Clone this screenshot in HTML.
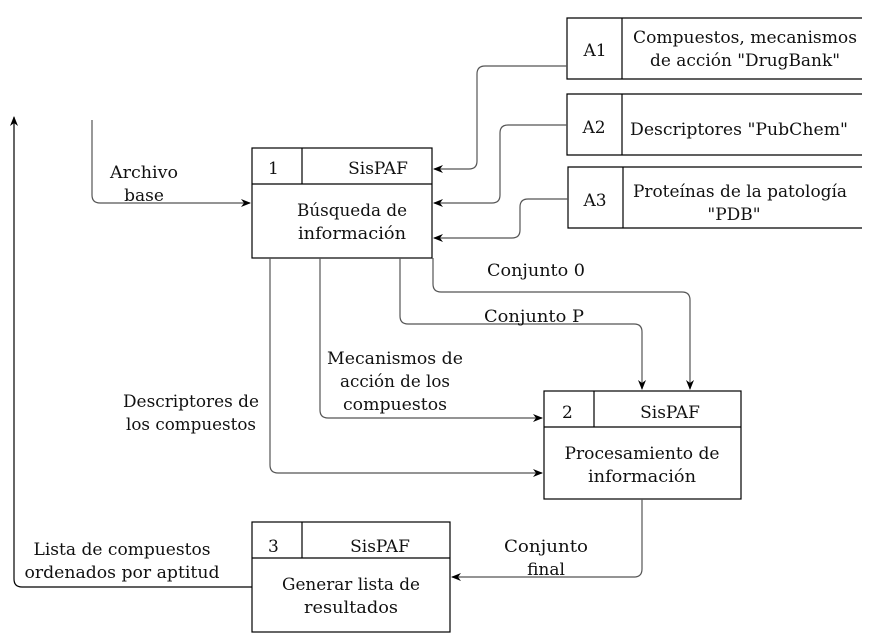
<!DOCTYPE html>
<html><head><meta charset="utf-8"><style>
html,body{margin:0;padding:0;background:#fff;}
svg{display:block;}
</style></head><body>
<svg width="877" height="635" viewBox="0 0 877 635" xmlns="http://www.w3.org/2000/svg">
<defs>
<marker id="ar" markerWidth="10" markerHeight="10" refX="9" refY="5" orient="auto" markerUnits="userSpaceOnUse">
<path d="M0,1 L10,5 L0,9 L3,5 z" fill="#000"/>
</marker>
</defs>
<g fill="none" stroke="#000" stroke-width="1.2">
<rect x="252" y="148" width="180" height="110"/>
<line x1="252" y1="184" x2="432" y2="184"/><line x1="302" y1="148" x2="302" y2="184"/>
<rect x="544" y="391" width="197" height="108"/>
<line x1="544" y1="427" x2="741" y2="427"/><line x1="594" y1="391" x2="594" y2="427"/>
<rect x="252" y="522" width="198" height="110"/>
<line x1="252" y1="558" x2="450" y2="558"/><line x1="302" y1="522" x2="302" y2="558"/>
<path d="M862,18 H567 V79 H862 M622,18 V79"/>
<path d="M862,94 H567 V155 H862 M622,94 V155"/>
<path d="M862,167 H568 V228 H862 M623,167 V228"/>
</g>
<g fill="none" stroke="#555" stroke-width="1.2">
<path d="M567,66 H485 Q477,66 477,74 V161 Q477,169 469,169 H434" marker-end="url(#ar)"/>
<path d="M567,125 H508 Q500,125 500,133 V195 Q500,203 492,203 H434" marker-end="url(#ar)"/>
<path d="M568,199 H528 Q520,199 520,207 V230 Q520,238 512,238 H434" marker-end="url(#ar)"/>
<path d="M92,120 V195 Q92,203 100,203 H250" marker-end="url(#ar)"/>
<path d="M433,258 V284 Q433,292 441,292 H682 Q690,292 690,300 V389" marker-end="url(#ar)"/>
<path d="M400,258 V316 Q400,324 408,324 H634 Q642,324 642,332 V389" marker-end="url(#ar)"/>
<path d="M320,258 V410 Q320,418 328,418 H542" marker-end="url(#ar)"/>
<path d="M270,258 V465 Q270,473 278,473 H542" marker-end="url(#ar)"/>
<path d="M642,499 V569 Q642,577 634,577 H452" marker-end="url(#ar)"/>
<path d="M252,587 H22 Q14,587 14,579 V117" stroke="#000" marker-end="url(#ar)"/>
</g>
<g font-family="DejaVu Serif, Liberation Serif, serif" font-size="17" fill="#111">
<text x="268" y="174">1</text>
<text x="378" y="174" text-anchor="middle">SisPAF</text>
<text x="352" y="216" text-anchor="middle" textLength="110" lengthAdjust="spacingAndGlyphs">Búsqueda de</text>
<text x="352" y="239" text-anchor="middle" textLength="108" lengthAdjust="spacingAndGlyphs">información</text>
<text x="562" y="418">2</text>
<text x="670" y="418" text-anchor="middle">SisPAF</text>
<text x="642" y="459" text-anchor="middle" textLength="155" lengthAdjust="spacingAndGlyphs">Procesamiento de</text>
<text x="642" y="482" text-anchor="middle" textLength="108" lengthAdjust="spacingAndGlyphs">información</text>
<text x="268" y="552">3</text>
<text x="380" y="552" text-anchor="middle">SisPAF</text>
<text x="351" y="590" text-anchor="middle" textLength="138" lengthAdjust="spacingAndGlyphs">Generar lista de</text>
<text x="351" y="613" text-anchor="middle" textLength="94" lengthAdjust="spacingAndGlyphs">resultados</text>
<text x="595" y="56" text-anchor="middle">A1</text>
<text x="745" y="43" text-anchor="middle" textLength="224" lengthAdjust="spacingAndGlyphs">Compuestos, mecanismos</text>
<text x="745" y="66" text-anchor="middle" textLength="190" lengthAdjust="spacingAndGlyphs">de acción "DrugBank"</text>
<text x="594" y="133" text-anchor="middle">A2</text>
<text x="739" y="135" text-anchor="middle" textLength="218" lengthAdjust="spacingAndGlyphs">Descriptores "PubChem"</text>
<text x="595" y="206" text-anchor="middle">A3</text>
<text x="740" y="197" text-anchor="middle" textLength="214" lengthAdjust="spacingAndGlyphs">Proteínas de la patología</text>
<text x="734" y="220" text-anchor="middle">"PDB"</text>
<text x="144" y="178" text-anchor="middle" textLength="68" lengthAdjust="spacingAndGlyphs">Archivo</text>
<text x="144" y="201" text-anchor="middle">base</text>
<text x="536" y="276" text-anchor="middle" textLength="98" lengthAdjust="spacingAndGlyphs">Conjunto 0</text>
<text x="534" y="322" text-anchor="middle" textLength="100" lengthAdjust="spacingAndGlyphs">Conjunto P</text>
<text x="395" y="364" text-anchor="middle" textLength="136" lengthAdjust="spacingAndGlyphs">Mecanismos de</text>
<text x="395" y="387" text-anchor="middle" textLength="110" lengthAdjust="spacingAndGlyphs">acción de los</text>
<text x="395" y="410" text-anchor="middle" textLength="104" lengthAdjust="spacingAndGlyphs">compuestos</text>
<text x="191" y="407" text-anchor="middle" textLength="136" lengthAdjust="spacingAndGlyphs">Descriptores de</text>
<text x="191" y="430" text-anchor="middle" textLength="130" lengthAdjust="spacingAndGlyphs">los compuestos</text>
<text x="546" y="552" text-anchor="middle" textLength="84" lengthAdjust="spacingAndGlyphs">Conjunto</text>
<text x="546" y="575" text-anchor="middle">final</text>
<text x="122" y="555" text-anchor="middle" textLength="177" lengthAdjust="spacingAndGlyphs">Lista de compuestos</text>
<text x="122" y="578" text-anchor="middle" textLength="195" lengthAdjust="spacingAndGlyphs">ordenados por aptitud</text>
</g>
</svg>
</body></html>
